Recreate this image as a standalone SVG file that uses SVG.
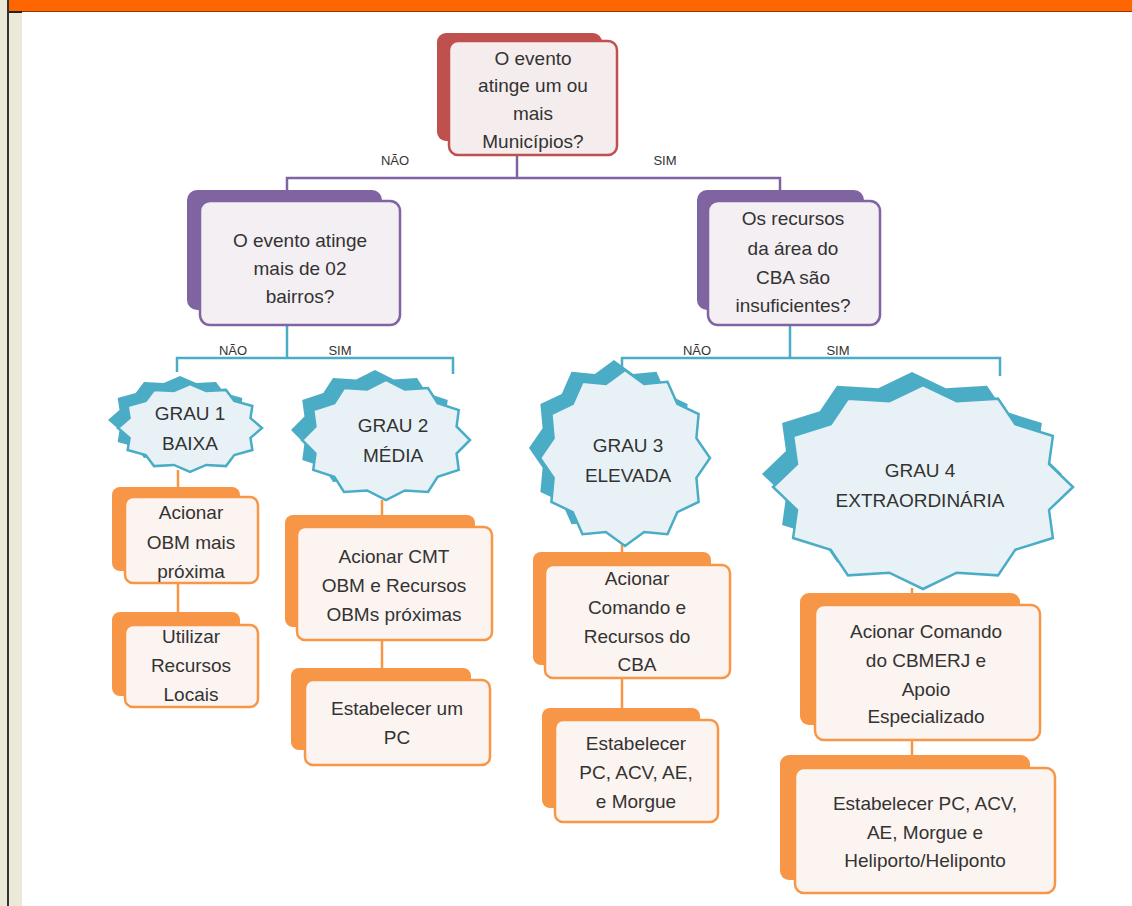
<svg xmlns="http://www.w3.org/2000/svg" xmlns:xlink="http://www.w3.org/1999/xlink" width="1132" height="906" viewBox="0 0 1132 906">
<style>
text{font-family:"Liberation Sans","Noto Sans",Arial,sans-serif;fill:#333333;text-anchor:middle}
.t{font-size:19px}
.lbl{font-size:13px}
.red-sh{fill:#c0504d}
.red{fill:#f5eded;stroke:#c0504d;stroke-width:2.5}
.pur-sh{fill:#8064a2}
.pur{fill:#f3eff2;stroke:#8064a2;stroke-width:2.5}
.or-sh{fill:#f79646}
.or{fill:#fcf4f0;stroke:#f79646;stroke-width:2.5}
.st-sh{fill:#4bacc6}
.st{fill:#e8f2f6;stroke:#4bacc6;stroke-width:2.5}
.c-pur{fill:none;stroke:#8064a2;stroke-width:2.5}
.c-teal{fill:none;stroke:#4bacc6;stroke-width:2.5}
.c-or{fill:none;stroke:#f79646;stroke-width:2.5}
</style>
<defs>
<polygon id="star" vector-effect="non-scaling-stroke" points="100,0 84,22.5 86.6,50 61.5,61.5 50,86.6 22.5,84 0,100 -22.5,84 -50,86.6 -61.5,61.5 -86.6,50 -84,22.5 -100,0 -84,-22.5 -86.6,-50 -61.5,-61.5 -50,-86.6 -22.5,-84 0,-100 22.5,-84 50,-86.6 61.5,-61.5 86.6,-50 84,-22.5"/>
</defs>
<rect width="1132" height="906" fill="#ffffff"/>
<rect x="0" y="0" width="22" height="906" fill="#ece9d8"/>
<rect x="9" y="0" width="1123" height="11" fill="#ff6600"/>
<line x1="9" y1="11.5" x2="1132" y2="11.5" stroke="#8a3a00" stroke-width="1"/>
<line x1="9" y1="12" x2="22" y2="12" stroke="#222" stroke-width="2"/>
<line x1="8" y1="0" x2="8" y2="906" stroke="#333" stroke-width="2"/>

<g id="connectors">
<path class="c-pur" d="M517,155 V178 M287,195 V178 H780 V190"/>
<path class="c-teal" d="M287,325 V358 M177,372 V358 H453 V374"/>
<path class="c-teal" d="M790,325 V358 M622,374 V358 H1000 V376"/>
<path class="c-or" d="M178,470 V487 M178,583 V612 M382,500 V515 M382,640 V668 M622,545 V552 M622,678 V708 M912,588 V600 M912,740 V758"/>
<text class="lbl" x="395" y="165">NÃO</text>
<text class="lbl" x="665" y="165">SIM</text>
<text class="lbl" x="233" y="355">NÃO</text>
<text class="lbl" x="340" y="355">SIM</text>
<text class="lbl" x="697" y="355">NÃO</text>
<text class="lbl" x="838" y="355">SIM</text>
</g>

<g id="n-top">
<rect class="red-sh" x="437" y="33" width="165" height="108" rx="9"/>
<rect class="red" x="449" y="41" width="168" height="114" rx="9"/>
<text class="t" x="533" y="65">O evento</text>
<text class="t" x="533" y="92">atinge um ou</text>
<text class="t" x="533" y="120">mais</text>
<text class="t" x="533" y="148">Municípios?</text>
</g>

<g id="n-bairros">
<rect class="pur-sh" x="187" y="190" width="195" height="120" rx="10"/>
<rect class="pur" x="200" y="201" width="200" height="124" rx="10"/>
<text class="t" x="300" y="247">O evento atinge</text>
<text class="t" x="300" y="275">mais de 02</text>
<text class="t" x="300" y="303">bairros?</text>
</g>

<g id="n-recursos">
<rect class="pur-sh" x="697" y="190" width="167" height="120" rx="10"/>
<rect class="pur" x="708" y="201" width="172" height="124" rx="10"/>
<text class="t" x="793" y="225">Os recursos</text>
<text class="t" x="793" y="255">da área do</text>
<text class="t" x="793" y="284">CBA são</text>
<text class="t" x="793" y="312">insuficientes?</text>
</g>

<g id="n-grau1">
<use href="#star" class="st-sh" transform="translate(180,420) scale(0.72,0.44)"/>
<use href="#star" class="st" transform="translate(190,428) scale(0.72,0.44)"/>
<text class="t" x="190" y="420">GRAU 1</text>
<text class="t" x="190" y="450">BAIXA</text>
</g>

<g id="n-grau2">
<use href="#star" class="st-sh" transform="translate(375,430) scale(0.84,0.6)"/>
<use href="#star" class="st" transform="translate(386,440) scale(0.84,0.6)"/>
<text class="t" x="393" y="432">GRAU 2</text>
<text class="t" x="393" y="462">MÉDIA</text>
</g>

<g id="n-grau3">
<use href="#star" class="st-sh" transform="translate(614,448) scale(0.85,0.88)"/>
<use href="#star" class="st" transform="translate(625,458) scale(0.85,0.88)"/>
<text class="t" x="628" y="452">GRAU 3</text>
<text class="t" x="628" y="482">ELEVADA</text>
</g>

<g id="n-grau4">
<use href="#star" class="st-sh" transform="translate(912,474) scale(1.5,1.02)"/>
<use href="#star" class="st" transform="translate(923,487) scale(1.5,1.02)"/>
<text class="t" x="920" y="477">GRAU 4</text>
<text class="t" x="920" y="507">EXTRAORDINÁRIA</text>
</g>

<g id="n-b1a">
<rect class="or-sh" x="112" y="487" width="128" height="84" rx="8"/>
<rect class="or" x="125" y="497" width="133" height="86" rx="8"/>
<text class="t" x="191" y="519">Acionar</text>
<text class="t" x="191" y="549">OBM mais</text>
<text class="t" x="191" y="578">próxima</text>
</g>

<g id="n-b1b">
<rect class="or-sh" x="112" y="612" width="128" height="84" rx="8"/>
<rect class="or" x="125" y="625" width="133" height="82" rx="8"/>
<text class="t" x="191" y="643">Utilizar</text>
<text class="t" x="191" y="672">Recursos</text>
<text class="t" x="191" y="701">Locais</text>
</g>

<g id="n-b2a">
<rect class="or-sh" x="285" y="515" width="190" height="112" rx="8"/>
<rect class="or" x="297" y="527" width="195" height="113" rx="8"/>
<text class="t" x="394" y="563">Acionar CMT</text>
<text class="t" x="394" y="592">OBM e Recursos</text>
<text class="t" x="394" y="621">OBMs próximas</text>
</g>

<g id="n-b2b">
<rect class="or-sh" x="291" y="668" width="180" height="82" rx="8"/>
<rect class="or" x="305" y="680" width="185" height="85" rx="8"/>
<text class="t" x="397" y="715">Estabelecer um</text>
<text class="t" x="397" y="744">PC</text>
</g>

<g id="n-b3a">
<rect class="or-sh" x="533" y="552" width="178" height="113" rx="8"/>
<rect class="or" x="545" y="565" width="185" height="113" rx="8"/>
<text class="t" x="637" y="585">Acionar</text>
<text class="t" x="637" y="614">Comando  e</text>
<text class="t" x="637" y="643">Recursos do</text>
<text class="t" x="637" y="671">CBA</text>
</g>

<g id="n-b3b">
<rect class="or-sh" x="542" y="708" width="158" height="100" rx="8"/>
<rect class="or" x="555" y="720" width="163" height="102" rx="8"/>
<text class="t" x="636" y="750">Estabelecer</text>
<text class="t" x="636" y="779">PC, ACV, AE,</text>
<text class="t" x="636" y="808">e Morgue</text>
</g>

<g id="n-b4a">
<rect class="or-sh" x="800" y="593" width="220" height="132" rx="9"/>
<rect class="or" x="815" y="605" width="225" height="135" rx="9"/>
<text class="t" x="926" y="638">Acionar Comando</text>
<text class="t" x="926" y="667">do CBMERJ e</text>
<text class="t" x="926" y="696">Apoio</text>
<text class="t" x="926" y="723">Especializado</text>
</g>

<g id="n-b4b">
<rect class="or-sh" x="780" y="755" width="250" height="125" rx="9"/>
<rect class="or" x="795" y="768" width="260" height="125" rx="9"/>
<text class="t" x="925" y="810">Estabelecer PC, ACV,</text>
<text class="t" x="925" y="839">AE, Morgue  e</text>
<text class="t" x="925" y="867">Heliporto/Heliponto</text>
</g>
</svg>
